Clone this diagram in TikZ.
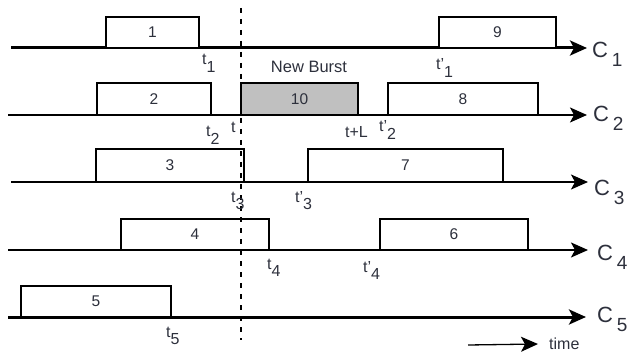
\documentclass[tikz,border=0pt]{standalone}
\usepackage{fontspec}
\setmainfont{Liberation Sans}
\usetikzlibrary{arrows.meta}
\definecolor{ink}{RGB}{45,48,60}
\definecolor{burstgray}{RGB}{192,192,192}
% subscript for time marks and channel names
\newcommand{\tsub}[1]{\raisebox{-7.5pt}{\fontsize{16}{16}\selectfont #1}}
\newcommand{\csub}[1]{\,\raisebox{-9pt}{\fontsize{19}{19}\selectfont #1}}
\begin{document}
\begin{tikzpicture}[x=1pt,y=-1pt,
  font=\fontsize{16}{16}\selectfont,
  burst/.style={draw=black,line width=2.4pt,fill=white,inner sep=0pt,outer sep=0pt,
    anchor=south west,text=ink,font=\fontsize{15.5}{15.5}\selectfont},
  tlabel/.style={anchor=base west,inner sep=0pt,text=ink},
  chan/.style={anchor=base west,inner sep=0pt,text=ink,font=\fontsize{22}{22}\selectfont},
  axis/.style={-{Stealth[length=17pt,width=15pt,inset=4pt]}},
]
\useasboundingbox (0,0) rectangle (628,358);

% channel axes
\coordinate (s1) at (11,48);  \coordinate (e1) at (587,48);
\coordinate (s2) at (8,115);  \coordinate (e2) at (587,115);
\coordinate (s3) at (11,182); \coordinate (e3) at (588,182);
\coordinate (s4) at (8,250);  \coordinate (e4) at (588,250);
\coordinate (s5) at (8,317);  \coordinate (e5) at (586,317);
\draw[axis,line width=3pt] (s1) -- (e1);
\draw[axis,line width=1.5pt] (s2) -- (e2);
\draw[axis,line width=1.5pt] (s3) -- (e3);
\draw[axis,line width=2pt] (s4) -- (e4);
\draw[axis,line width=3pt] (s5) -- (e5);

% bursts
\node[burst,minimum width=93,minimum height=31] (b1) at (106,48) {1};
\node[burst,minimum width=117,minimum height=31] (b9) at (439,48) {9};
\node[burst,minimum width=114,minimum height=32] (b2) at (97,115) {2};
\node[burst,minimum width=117,minimum height=32,fill=burstgray] (b10) at (241,115) {10};
\node[burst,minimum width=150,minimum height=32] (b8) at (388,115) {8};
\node[burst,minimum width=148,minimum height=33] (b3) at (96,182) {3};
\node[burst,minimum width=195,minimum height=33] (b7) at (308,182) {7};
\node[burst,minimum width=148,minimum height=31] (b4) at (121,250) {4};
\node[burst,minimum width=148,minimum height=31] (b6) at (380,250) {6};
\node[burst,minimum width=150,minimum height=31] (b5) at (21,317) {5};

% instant of the new burst
\coordinate (dtop) at (241,8);
\coordinate (dbot) at (241,340);
\draw[line width=1.3pt,dash pattern=on 5pt off 6pt] (dtop) -- (dbot);

\node[anchor=base,inner sep=0pt,text=ink,font=\fontsize{16.5}{16.5}\selectfont] (nb) at (309,73) {New Burst};

% time marks
\node[tlabel] (t1) at (202,65) {t\tsub{1}};
\node[tlabel] (t1p) at (436,70) {t’\tsub{1}};
\node[tlabel] (t2) at (206,137) {t\tsub{2}};
\node[tlabel] (t0) at (231,133) {t};
\node[tlabel] (tl) at (345,138) {t+L};
\node[tlabel] (t2p) at (379,132) {t’\tsub{2}};
\node[tlabel] (t3) at (231,202) {t\tsub{3}};
\node[tlabel] (t3p) at (295,202) {t’\tsub{3}};
\node[tlabel] (t4) at (267,269) {t\tsub{4}};
\node[tlabel] (t4p) at (363,272) {t’\tsub{4}};
\node[tlabel] (t5) at (166,337) {t\tsub{5}};

% channel names
\node[chan] (c1) at (592,58) {C\csub{1}};
\node[chan] (c2) at (593,122) {C\csub{2}};
\node[chan] (c3) at (594,195) {C\csub{3}};
\node[chan] (c4) at (597,260) {C\csub{4}};
\node[chan] (c5) at (597,322) {C\csub{5}};

% time direction
\coordinate (ta) at (468,345);
\node[anchor=west,inner sep=0pt,text=ink,font=\fontsize{16}{16}\selectfont] (tm) at (549,344) {time};
\draw[-{Stealth[length=17pt,width=15pt,inset=4pt]},line width=1.3pt] (ta) -- (tm.west -| 538,0);
\end{tikzpicture}
\end{document}
